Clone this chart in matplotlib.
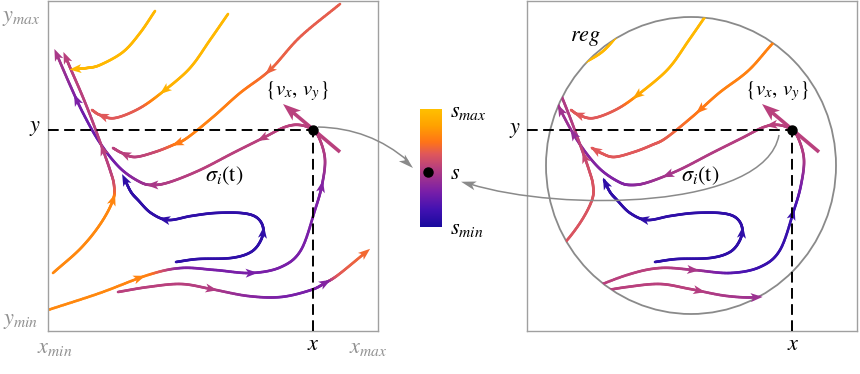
import numpy as np
import matplotlib
matplotlib.use("Agg")
import matplotlib.pyplot as plt
from matplotlib.collections import LineCollection
from matplotlib.colors import LinearSegmentedColormap
from matplotlib.patches import Polygon, Ellipse, PathPatch
from matplotlib.path import Path

plt.rcParams["mathtext.fontset"] = "stix"
plt.rcParams["font.family"] = ["STIXGeneral", "DejaVu Serif"]

# ---------------- data: streamlines in panel units (x right, y up, box 0..330) -------------
A_x = [107, 92, 75, 52, 39, 28]
A_y = [320, 298, 279, 266, 263, 262]
B_x = [180, 162, 142, 117, 92, 67, 52, 44]
B_y = [317, 291, 263, 241, 223, 213, 216, 221]
C_x = [292, 252, 222, 192, 165, 139, 125, 107, 87, 74, 65]
C_y = [327, 294, 261, 238, 214, 193, 186, 179, 174, 178, 183]
D_x = [0, 52, 100, 133, 167, 203, 233, 253, 267, 274, 277, 272, 265, 252, 237, 215,
       185, 152, 122, 105, 92, 72, 52, 35, 22, 9]
D_y = [21, 38, 56, 63, 61, 58, 64, 81, 121, 146, 171, 191, 201, 206, 204, 193,
       178, 161, 149, 146, 149, 163, 188, 218, 246, 276]
E_x = [128, 150, 183, 203, 213, 215, 208, 193, 167, 143, 120, 103, 90, 83, 77]
E_y = [69, 72, 73, 79, 91, 104, 114, 118, 118, 115, 111, 118, 131, 139, 151]
F_x = [5, 33, 53, 65, 66, 62, 55, 44, 34, 24, 18]
F_y = [58, 83, 108, 131, 146, 161, 181, 211, 236, 259, 273]
G_x = [70, 100, 133, 163, 200, 233, 263, 277, 290, 317]
G_y = [39, 44, 47, 42, 35, 34, 41, 48, 56, 78]

# colour parameter s along each line (0 = s_min, 1 = s_max)
s_left = {
    "A": [0.96] * 6,
    "B": [0.96, 0.96, 0.95, 0.93, 0.64, 0.62, 0.62, 0.62],
    "C": [0.64, 0.64, 0.66, 0.74, 0.76, 0.76, 0.72, 0.55, 0.5, 0.5, 0.5],
    "D": [0.78, 0.78, 0.76, 0.32, 0.3, 0.3, 0.3, 0.3, 0.3, 0.33, 0.45, 0.5, 0.5, 0.5,
          0.5, 0.5, 0.5, 0.5, 0.48, 0.45, 0.4, 0.3, 0.25, 0.27, 0.35, 0.45],
    "E": [0.08] * 15,
    "F": [0.78, 0.78, 0.78, 0.77, 0.6, 0.5, 0.5, 0.5, 0.5, 0.5, 0.5],
    "G": [0.5, 0.5, 0.5, 0.48, 0.35, 0.3, 0.3, 0.33, 0.62, 0.68],
}
s_right = {
    "A": [0.96] * 6,
    "B": [0.96, 0.96, 0.95, 0.93, 0.64, 0.62, 0.62, 0.62],
    "C": [0.76, 0.76, 0.76, 0.76, 0.72, 0.64, 0.62, 0.62, 0.62, 0.62, 0.62],
    "D": [0.5, 0.5, 0.5, 0.5, 0.45, 0.22, 0.12, 0.1, 0.12, 0.3, 0.45, 0.5, 0.5, 0.5,
          0.5, 0.49, 0.48, 0.46, 0.4, 0.35, 0.32, 0.32, 0.36, 0.42, 0.45, 0.47],
    "E": [0.08] * 15,
    "F": [0.6, 0.6, 0.6, 0.6, 0.6, 0.58, 0.52, 0.48, 0.47, 0.47, 0.47],
    "G": [0.5, 0.5, 0.5, 0.5, 0.45, 0.4, 0.38, 0.38, 0.38, 0.38],
}
# approximate arrowhead locations along each line
arrows_left = {
    "A": [(28, 262)],
    "B": [(117, 241), (55, 214)],
    "C": [(222, 261), (130, 188), (77, 176)],
    "D": [(90, 53), (203, 58), (275, 144), (215, 193), (105, 146), (29, 231), (9, 276)],
    "E": [(218, 98), (117, 112), (77, 151)],
    "F": [(65, 131), (55, 181), (18, 273)],
    "G": [(163, 42), (277, 48), (317, 78)],
}
arrows_right = {
    "A": [],
    "B": [(112, 234), (52, 216)],
    "C": [(174, 221), (69, 181)],
    "D": [(165, 56), (262, 118), (245, 206), (142, 154), (49, 198), (34, 221)],
    "E": [(218, 98), (117, 112), (80, 148)],
    "F": [(59, 174)],
    "G": [(172, 38), (229, 34)],
}
curves = {"A": (A_x, A_y), "B": (B_x, B_y), "C": (C_x, C_y), "D": (D_x, D_y),
          "E": (E_x, E_y), "F": (F_x, F_y), "G": (G_x, G_y)}

point_xy = (265, 201)          # (x, y) sample point
velocity_tail = (292, 179)
velocity_tip = (235, 227)
region_center = (164, 165.5)
region_w, region_h = 290, 297

cmap = LinearSegmentedColormap.from_list(
    "sfun", [(0, "#1a0a9e"), (0.15, "#4312b2"), (0.3, "#7a1fa8"), (0.5, "#b8407e"),
             (0.62, "#e0585a"), (0.72, "#ff7418"), (0.86, "#ffa200"), (1, "#ffc000")])


def catmull(xs, ys, ss, n=24):
    P = np.column_stack([xs, ys]).astype(float)
    S = np.asarray(ss, float)
    ext = np.vstack([2 * P[0] - P[1], P, 2 * P[-1] - P[-2]])
    t = np.linspace(0, 1, n, endpoint=False)[:, None]
    out, sout = [], []
    for i in range(len(P) - 1):
        p0, p1, p2, p3 = ext[i], ext[i + 1], ext[i + 2], ext[i + 3]
        seg = 0.5 * ((2 * p1) + (-p0 + p2) * t + (2 * p0 - 5 * p1 + 4 * p2 - p3) * t ** 2
                     + (-p0 + 3 * p1 - 3 * p2 + p3) * t ** 3)
        out.append(seg)
        sout.append(S[i] + (S[i + 1] - S[i]) * t[:, 0])
    out.append(P[-1:])
    sout.append(S[-1:])
    return np.vstack(out), np.concatenate(sout)


def head(ax, p, d, color, L=12, W=9, z=3):
    d = np.asarray(d, float)
    d = d / np.hypot(*d)
    nrm = np.array([-d[1], d[0]])
    p = np.asarray(p, float)
    tip = p + d * L * 0.55
    base = p - d * L * 0.45
    notch = p - d * L * 0.2
    ax.add_patch(Polygon([tip, base + nrm * W / 2, notch, base - nrm * W / 2], closed=True,
                         facecolor=color, edgecolor="none", zorder=z))


def draw_panel(ax, svals, arrows, clip=None):
    for k, (xs, ys) in curves.items():
        pts, s = catmull(xs, ys, svals[k])
        segs = np.stack([pts[:-1], pts[1:]], axis=1)
        lc = LineCollection(segs, colors=cmap(0.5 * (s[:-1] + s[1:])), linewidths=1.9,
                            capstyle="round", joinstyle="round", zorder=2)
        ax.add_collection(lc)
        if clip is not None:
            lc.set_clip_path(clip)
        for near in arrows[k]:
            i = int(np.argmin(((pts - np.array(near)) ** 2).sum(1)))
            j0, j1 = max(i - 3, 0), min(i + 3, len(pts) - 1)
            head(ax, pts[i], pts[j1] - pts[j0], cmap(s[i]))
    # dashed guides
    ax.plot([0, point_xy[0]], [point_xy[1], point_xy[1]], color="black", lw=1.4,
            ls=(0, (5.5, 2.8)), zorder=4)
    ax.plot([point_xy[0], point_xy[0]], [0, point_xy[1]], color="black", lw=1.4,
            ls=(0, (5.5, 2.8)), zorder=4)
    # velocity vector
    tail = np.array(velocity_tail, float)
    tip = np.array(velocity_tip, float)
    d = (tip - tail) / np.hypot(*(tip - tail))
    ax.plot([tail[0], tip[0] - d[0] * 12], [tail[1], tip[1] - d[1] * 12],
            color=cmap(0.5), lw=2.6, solid_capstyle="butt", zorder=5)
    head(ax, tip - d * 18 * 0.55, d, cmap(0.5), L=18, W=13, z=5)
    ax.plot(*point_xy, "o", color="black", ms=6.5, zorder=6)


fig = plt.figure(figsize=(8.6, 3.74), dpi=100)
panels = []
for left in (48, 527):
    ax = fig.add_axes([left / 860, 43 / 374, 330 / 860, 330 / 374])
    ax.set_xlim(0, 330)
    ax.set_ylim(0, 330)
    ax.set_xticks([])
    ax.set_yticks([])
    for sp in ax.spines.values():
        sp.set_color("#a0a0a0")
        sp.set_linewidth(1.0)
    panels.append(ax)

axL, axR = panels
draw_panel(axL, s_left, arrows_left)
ell = Ellipse(region_center, region_w, region_h, facecolor="none", edgecolor="#8a8a8a",
              lw=1.3, zorder=1)
axR.add_patch(ell)
clip = Ellipse(region_center, region_w, region_h, transform=axR.transData)
draw_panel(axR, s_right, arrows_right, clip=clip)

# ---------------- overlay (pixel coordinates, y down) ----------------
ov = fig.add_axes([0, 0, 1, 1], zorder=10)
ov.set_xlim(0, 860)
ov.set_ylim(374, 0)
ov.axis("off")
ov.patch.set_alpha(0)

# colour bar
grad = np.linspace(0, 1, 256)[:, None]
ov.imshow(grad, cmap=cmap, origin="lower", extent=(420, 442, 227, 109), aspect="auto",
          zorder=2)
ov.plot(428, 172, "o", color="black", ms=6.5, zorder=3)

gray = "#8a8a8a"
# connectors
p1 = Path([(318, 127), (370, 128), (408, 161)], [Path.MOVETO, Path.CURVE3, Path.CURVE3])
ov.add_patch(PathPatch(p1, facecolor="none", edgecolor=gray, lw=1.1, zorder=4))
head(ov, (413 - 0.55 * 15 * 0.74, 168 - 0.55 * 15 * 0.67), (44, 40), gray, L=15, W=9, z=4)
p2 = Path([(779, 135), (765, 210), (560, 212), (470, 184)],
          [Path.MOVETO, Path.CURVE4, Path.CURVE4, Path.CURVE4])
ov.add_patch(PathPatch(p2, facecolor="none", edgecolor=gray, lw=1.1, zorder=4))
head(ov, (469, 184), (-98, -28), gray, L=15, W=9, z=4)

fs = 16
for txt, (x, y) in [("$y_{max}$", (21, 18)), ("$y_{min}$", (21, 321)),
                    ("$x_{min}$", (55, 348)), ("$x_{max}$", (368, 348))]:
    ov.text(x, y, txt, color="#909090", fontsize=fs, ha="center", va="center")
for off in (0, 480):
    ov.text(313 + off, 345, "$x$", fontsize=fs, ha="center", va="center")
    ov.text(297 + off, 91, r"$\{v_x,\, v_y\}$", fontsize=15, ha="center", va="center")
    ov.text(224 + off - (4 if off else 0), 176, r"$\sigma_i(\mathrm{t})$", fontsize=16,
            ha="center", va="center")
ov.text(35, 128, "$y$", fontsize=fs, ha="center", va="center")
ov.text(515, 130, "$y$", fontsize=fs, ha="center", va="center")
ov.text(586, 38, "$reg$", fontsize=16, ha="center", va="center")
ov.text(450, 112, "$s_{max}$", fontsize=fs, ha="left", va="center")
ov.text(450, 174, "$s$", fontsize=fs, ha="left", va="center")
ov.text(450, 229, "$s_{min}$", fontsize=fs, ha="left", va="center")

fig.savefig("out.png", dpi=100)
